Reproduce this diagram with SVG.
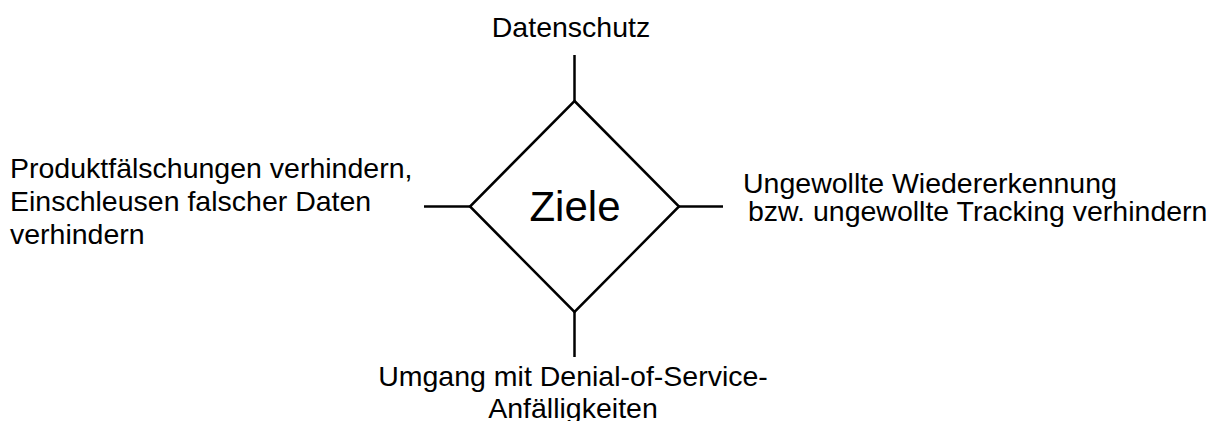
<svg xmlns="http://www.w3.org/2000/svg" width="1226" height="421" viewBox="0 0 1226 421">
  <style>
    .lbl { font-family: "Liberation Sans", Arial, sans-serif; font-size: 28.5px; fill: #000; }
    .title { font-family: "Liberation Sans", Arial, sans-serif; font-size: 42px; fill: #000; }
    .edge { stroke: #000; stroke-width: 2.5; fill: none; }
  </style>
  <rect width="1226" height="421" fill="#fff"/>

  <!-- spokes from the central diamond -->
  <g id="connectors">
    <line class="edge" x1="574.5" y1="55" x2="574.5" y2="101"/>
    <line class="edge" x1="424" y1="206.5" x2="470" y2="206.5"/>
    <line class="edge" x1="679" y1="206.5" x2="723" y2="206.5"/>
    <line class="edge" x1="574.5" y1="312" x2="574.5" y2="357"/>
  </g>

  <g id="ziele">
    <polygon class="edge" points="574.5,101 679,206.5 574.5,312 470,206.5"/>
    <text class="title" x="575" y="221" text-anchor="middle">Ziele</text>
  </g>

  <g id="datenschutz">
    <text class="lbl" x="571" y="37" text-anchor="middle">Datenschutz</text>
  </g>

  <g id="produktfaelschungen">
    <text class="lbl" x="10" y="178">Produktfälschungen verhindern,</text>
    <text class="lbl" x="10" y="211">Einschleusen falscher Daten</text>
    <text class="lbl" x="10" y="244">verhindern</text>
  </g>

  <g id="wiedererkennung">
    <text class="lbl" x="743" y="193">Ungewollte Wiedererkennung</text>
    <text class="lbl" x="748" y="221">bzw. ungewollte Tracking verhindern</text>
  </g>

  <g id="denial-of-service">
    <text class="lbl" x="573" y="386" text-anchor="middle">Umgang mit Denial-of-Service-</text>
    <text class="lbl" x="573" y="418" text-anchor="middle">Anfälligkeiten</text>
  </g>
</svg>
